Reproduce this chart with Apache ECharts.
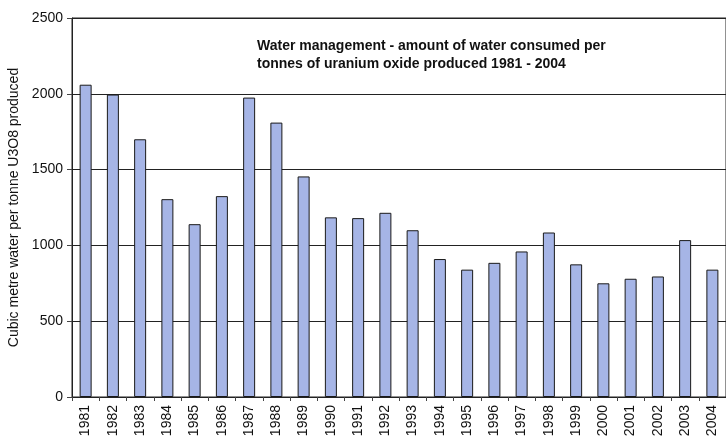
<!DOCTYPE html>
<html>
<head>
<meta charset="utf-8">
<script src="https://cdn.jsdelivr.net/npm/echarts@6/dist/echarts.min.js"></script>
<style>
html,body{margin:0;padding:0;background:#fff;}
#c{width:726px;height:444px;}
</style>
</head>
<body>
<div id="c"></div>
<script>
var years = ['1981','1982','1983','1984','1985','1986','1987','1988','1989','1990','1991','1992','1993','1994','1995','1996','1997','1998','1999','2000','2001','2002','2003','2004'];
var waterPerTonne = [2060,1995,1700,1305,1140,1325,1975,1810,1455,1185,1180,1215,1100,910,840,885,960,1085,875,750,780,795,1035,840];
var yTicks = [0,500,1000,1500,2000,2500];
var titleLines = ['Water management - amount of water consumed per','tonnes of uranium oxide produced 1981 - 2004'];
var yAxisTitle = 'Cubic metre water per tonne U3O8 produced';

var chart = echarts.init(document.getElementById('c'), null, {renderer:'canvas'});
chart.setOption({
  animation:false,
  backgroundColor:'#ffffff',
  textStyle:{fontFamily:'Liberation Sans, Arial, sans-serif'},
  title:{
    text:titleLines.join('\n'),
    left:252, top:32,
    textStyle:{fontFamily:'Liberation Sans, Arial, sans-serif',fontWeight:'bold',fontSize:14,lineHeight:18,color:'#111'}
  },
  grid:{left:72,top:18,right:0,bottom:47,show:true,borderColor:'#222',borderWidth:1,containLabel:false,outerBoundsMode:'none'},
  xAxis:{
    type:'category',data:years,
    axisLine:{lineStyle:{color:'#222',width:1}},
    axisTick:{show:true,length:4,lineStyle:{color:'#444'}},
    axisLabel:{rotate:90,margin:8,fontSize:14,color:'#111',interval:0,fontFamily:'Liberation Sans, Arial, sans-serif'}
  },
  yAxis:{
    type:'value',min:yTicks[0],max:yTicks[yTicks.length-1],interval:500,
    name:yAxisTitle,nameLocation:'middle',nameGap:47,nameRotate:90,
    nameTextStyle:{fontSize:14,color:'#111',fontFamily:'Liberation Sans, Arial, sans-serif'},
    axisLine:{show:true,lineStyle:{color:'#222',width:1}},
    axisTick:{show:true,length:5,lineStyle:{color:'#444'}},
    axisLabel:{fontSize:14,color:'#111',margin:9,fontFamily:'Liberation Sans, Arial, sans-serif',formatter:function(v){return String(v);}},
    splitLine:{show:true,lineStyle:{color:'#222',width:1}}
  },
  series:[{
    type:'bar',data:waterPerTonne,barWidth:12,
    itemStyle:{color:'#a6b5e6',borderColor:'#1a1a1a',borderWidth:1}
  }]
});
</script>
</body>
</html>
